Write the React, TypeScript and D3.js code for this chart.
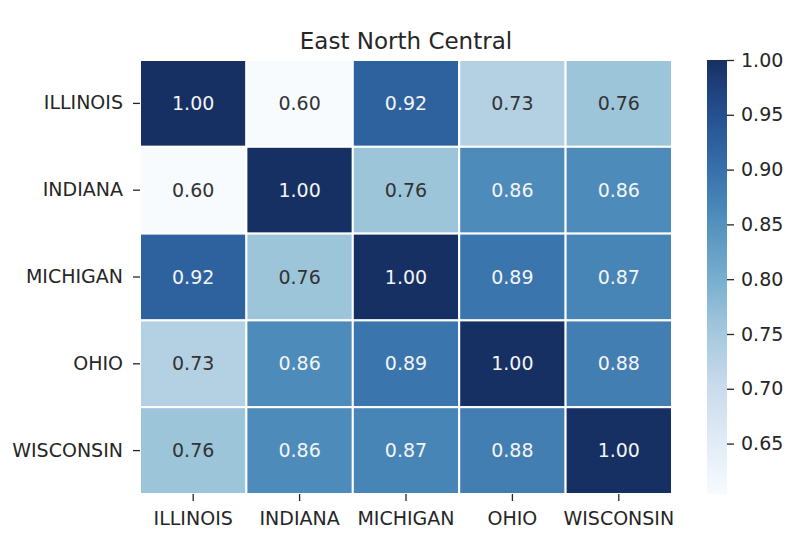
import React, { useEffect, useRef } from 'react';
import * as d3 from 'd3';

// Correlation matrix for the East North Central states
const states = ['ILLINOIS', 'INDIANA', 'MICHIGAN', 'OHIO', 'WISCONSIN'];

const illinois = [1.0, 0.604, 0.922, 0.73, 0.76];
const indiana = [0.604, 1.0, 0.76, 0.86, 0.86];
const michigan = [0.922, 0.76, 1.0, 0.893, 0.87];
const ohio = [0.73, 0.86, 0.893, 1.0, 0.88];
const wisconsin = [0.76, 0.86, 0.87, 0.88, 1.0];

const matrix = [illinois, indiana, michigan, ohio, wisconsin];

const colorbarTicks = [0.65, 0.7, 0.75, 0.8, 0.85, 0.9, 0.95, 1.0];

// matplotlib "Blues" anchor colours
const bluesStops = [
  '#f7fbff', '#deebf7', '#c6dbef', '#9ecae1', '#6baed6',
  '#4292c6', '#2171b5', '#08519c', '#08306b',
];

const WIDTH = 804;
const HEIGHT = 556;
const FONT = 'DejaVu Sans, sans-serif';

const luminance = (c: string) => {
  const rgb = d3.rgb(c);
  const lin = (v: number) => {
    const s = v / 255;
    return s <= 0.03928 ? s / 12.92 : Math.pow((s + 0.055) / 1.055, 2.4);
  };
  return 0.2126 * lin(rgb.r) + 0.7152 * lin(rgb.g) + 0.0722 * lin(rgb.b);
};

// the screenshot's blues are a touch muted compared with the raw colormap
const mute = (c: string) => {
  const h = d3.hcl(c);
  h.c *= 0.86;
  return h.formatHex();
};

const App: React.FC = () => {
  const svgRef = useRef<SVGSVGElement>(null);

  useEffect(() => {
    if (!svgRef.current) return;
    const svg = d3.select(svgRef.current);
    svg.selectAll('*').remove();

    const left = 140;
    const right = 672;
    const top = 60;
    const bottom = 494;

    const vmin = d3.min(matrix.flat()) as number;
    const vmax = d3.max(matrix.flat()) as number;
    const interp = d3.piecewise(d3.interpolateRgb, bluesStops);
    const rawColor = (v: number) => interp((v - vmin) / (vmax - vmin));
    const color = (v: number) => mute(rawColor(v));

    const x = d3.scaleBand<string>().domain(states).range([left, right]);
    const y = d3.scaleBand<string>().domain(states).range([top, bottom]);

    // Cells
    const rows = svg
      .append('g')
      .selectAll('g')
      .data(matrix)
      .enter()
      .append('g')
      .attr('transform', (_, i) => `translate(0,${y(states[i])})`);

    rows
      .selectAll('rect')
      .data((d) => d)
      .enter()
      .append('rect')
      .attr('x', (_, j) => x(states[j]) as number)
      .attr('width', x.bandwidth())
      .attr('height', y.bandwidth())
      .attr('fill', (d) => color(d))
      .attr('stroke', '#ffffff')
      .attr('stroke-width', 2);

    rows
      .selectAll('text')
      .data((d) => d)
      .enter()
      .append('text')
      .attr('x', (_, j) => (x(states[j]) as number) + x.bandwidth() / 2)
      .attr('y', y.bandwidth() / 2)
      .attr('dy', '0.35em')
      .attr('text-anchor', 'middle')
      .attr('font-family', FONT)
      .attr('font-size', 19)
      .attr('fill', (d) => (luminance(rawColor(d)) > 0.408 ? '#333333' : '#f4f4f4'))
      .text((d) => d3.format('.2f')(d));

    // Axes
    const styleAxis = (g: d3.Selection<SVGGElement, unknown, null, undefined>) => {
      g.select('.domain').remove();
      g.selectAll('line').attr('stroke', '#262626').attr('stroke-width', 1.3);
      g.selectAll('text')
        .attr('font-family', FONT)
        .attr('font-size', 19)
        .attr('fill', '#262626');
    };

    svg
      .append('g')
      .attr('transform', `translate(0,${bottom})`)
      .call(d3.axisBottom(x).tickSize(7).tickPadding(11))
      .call(styleAxis);

    svg
      .append('g')
      .attr('transform', `translate(${left},0)`)
      .call(d3.axisLeft(y).tickSize(7).tickPadding(10))
      .call(styleAxis);

    // Title
    svg
      .append('text')
      .attr('x', (left + right) / 2)
      .attr('y', 49)
      .attr('text-anchor', 'middle')
      .attr('font-family', FONT)
      .attr('font-size', 23)
      .attr('fill', '#262626')
      .text('East North Central');

    // Colorbar
    const cbLeft = 707;
    const cbWidth = 20;
    const cbScale = d3.scaleLinear().domain([vmin, vmax]).range([bottom, top]);

    const grad = svg
      .append('defs')
      .append('linearGradient')
      .attr('id', 'cb-grad')
      .attr('x1', 0)
      .attr('y1', 1)
      .attr('x2', 0)
      .attr('y2', 0);
    d3.range(0, 1.0001, 0.05).forEach((t) => {
      grad
        .append('stop')
        .attr('offset', t)
        .attr('stop-color', mute(interp(t)));
    });

    svg
      .append('rect')
      .attr('x', cbLeft)
      .attr('y', top)
      .attr('width', cbWidth)
      .attr('height', bottom - top)
      .attr('fill', 'url(#cb-grad)');

    svg
      .append('g')
      .attr('transform', `translate(${cbLeft + cbWidth},0)`)
      .call(
        d3
          .axisRight(cbScale)
          .tickValues(colorbarTicks)
          .tickFormat((d) => d3.format('.2f')(d as number))
          .tickSize(7)
          .tickPadding(7)
      )
      .call(styleAxis);
  }, []);

  return (
    <svg
      ref={svgRef}
      width={WIDTH}
      height={HEIGHT}
      style={{ position: 'absolute', left: 0, top: 0, background: '#ffffff' }}
    />
  );
};

export default App;
